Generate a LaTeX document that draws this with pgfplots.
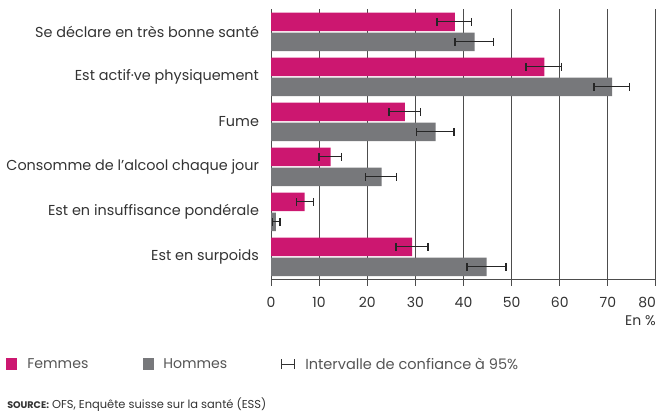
\documentclass[border=0pt]{standalone}
\usepackage{pgfplots}
\pgfplotsset{compat=1.18}
\usepackage{fontspec}
\setmainfont{Poppins}
\definecolor{fem}{HTML}{CC1770}
\definecolor{hom}{HTML}{77787B}
\definecolor{txt}{HTML}{333333}
\definecolor{legtxt}{HTML}{555555}
\definecolor{gridc}{HTML}{4D4D4D}

\pgfplotstableread{
y v ep em
5 38.2 3.5 3.7
4 56.8 3.5 3.8
3 27.8 3.2 3.3
2 12.4 2.2 2.4
1 7.0 1.9 1.7
0 29.3 3.3 3.3
}\femmes
\pgfplotstableread{
y v ep em
5 42.3 4.0 4.1
4 70.9 3.6 3.8
3 34.2 3.8 4.0
2 23.0 3.1 3.3
1 1.0 0.9 0.7
0 44.8 4.0 4.1
}\hommes

\begin{document}
\begin{tikzpicture}
\useasboundingbox (0,0) rectangle (495pt,308.25pt);
\begin{axis}[
  at={(203.25pt,98.775pt)}, anchor=south west,
  scale only axis, width=288.75pt, height=202.5pt,
  xbar, bar width=13.9pt,
  xmin=0, xmax=80, ymin=-0.5, ymax=5.5,
  axis x line*=bottom, axis y line*=left,
  xtick={0,10,20,30,40,50,60,70,80},
  xticklabels={0,10,20,30,40,50,60,70,\llap{80}},
  ytick={0,1,2,3,4,5},
  yticklabels={Est en surpoids, Est en insuffisance pondérale, Consomme de l’alcool chaque jour, Fume, Est actif·ve physiquement, Se déclare en très bonne santé},
  xmajorgrids, grid style={gridc, line width=0.75pt},
  axis line style={gridc, line width=0.75pt, -},
  x tick style={gridc, line width=0.75pt},
  tick align=outside, major tick length=5pt,
  y tick style={draw=none},
  xticklabel style={font=\fontsize{10.5}{12}\selectfont, text=txt, yshift=-5pt},
  yticklabel style={font=\fontsize{10.8}{12}\selectfont, text=txt, xshift=-0.5pt},
  clip=false,
]
\addplot[fill=fem, draw=none, bar shift=7.5pt,
  error bars/.cd, x dir=both, x explicit, error mark=|,
  error bar style={black!85, line width=1pt},
  error mark options={black!85, line width=1pt, mark size=3pt}]
  table[x=v, y=y, x error plus=ep, x error minus=em] {\femmes};
\addplot[fill=hom, draw=none, bar shift=-7.5pt,
  error bars/.cd, x dir=both, x explicit, error mark=|,
  error bar style={black!85, line width=1pt},
  error mark options={black!85, line width=1pt, mark size=3pt}]
  table[x=v, y=y, x error plus=ep, x error minus=em] {\hommes};
\end{axis}
\node[anchor=east, inner sep=0, text=txt, font=\fontsize{10.5}{12}\selectfont] at (492pt,67.5pt) {En \%};
% legend
\fill[fem] (4.5pt,30.75pt) rectangle (12.75pt,39.75pt);
\node[anchor=west, inner sep=0, text=legtxt, font=\fontsize{10.6}{13}\selectfont] at (20.25pt,35.25pt) {Femmes};
\fill[hom] (107pt,30.75pt) rectangle (115.5pt,39.75pt);
\node[anchor=west, inner sep=0, text=legtxt, font=\fontsize{10.6}{13}\selectfont] at (122.25pt,35.25pt) {Hommes};
\draw[black!80, line width=0.75pt] (211pt,35.25pt) -- (221pt,35.25pt);
\draw[black!80, line width=0.75pt] (211pt,31.5pt) -- (211pt,39pt);
\draw[black!80, line width=0.75pt] (221pt,31.5pt) -- (221pt,39pt);
\node[anchor=west, inner sep=0, text=legtxt, font=\fontsize{10.9}{13}\selectfont] at (228.75pt,35.25pt) {Intervalle de confiance à 95\%};
% source
\node[anchor=west, inner sep=0, text=txt, font=\fontsize{8.6}{10}\selectfont] at (5.25pt,4.8pt) {{\fontsize{7.2}{8}\selectfont\bfseries SOURCE:} OFS, Enquête suisse sur la santé (ESS)};
\end{tikzpicture}
\end{document}
